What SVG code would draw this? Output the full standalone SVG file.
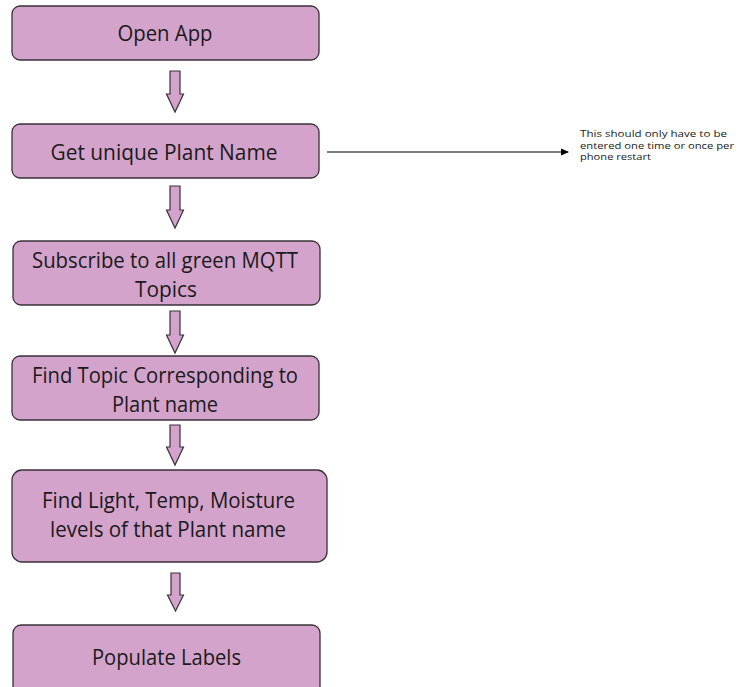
<svg xmlns="http://www.w3.org/2000/svg" width="741" height="687" viewBox="0 0 741 687">
<style>
.box{fill:#D3A3CB;stroke:#3a3038;stroke-width:1.3}
.t{font-family:"Open Sans","Liberation Sans",sans-serif;font-size:21px;fill:#1a1a1a;text-anchor:middle}
.n{font-family:"Open Sans","Liberation Sans",sans-serif;font-size:8.8px;fill:#1a1a1a}
.ba{fill:#D3A3CB;stroke:#3a3038;stroke-width:1.2}
</style>
<defs>
<marker id="ah" markerWidth="8" markerHeight="8" refX="7" refY="4" orient="auto" markerUnits="userSpaceOnUse">
<path d="M0,0.5 L8,4 L0,7.5 Z" fill="#000"/>
</marker>
</defs>
<rect width="741" height="687" fill="#fff"/>
<g id="connectors">
<path class="ba" d="M170,71 H180 V94 H183.5 L175,112 L166.5,94 H170 Z"/>
<path class="ba" d="M170,186 H180 V210 H183.5 L175,228 L166.5,210 H170 Z"/>
<path class="ba" d="M170,311 H180 V335 H183.5 L175,353 L166.5,335 H170 Z"/>
<path class="ba" d="M170,425 H180 V447 H183.5 L175,465 L166.5,447 H170 Z"/>
<path class="ba" d="M171,573 H180 V595 H183.5 L175.5,611 L167.5,595 H171 Z"/>
<line x1="327" y1="152" x2="568" y2="152" stroke="#000" stroke-width="1.2" marker-end="url(#ah)"/>
</g>
<g id="open-app">
<rect class="box" x="12" y="6" width="307" height="54" rx="8"/>
<text class="t" x="165" y="40.5" textLength="95" lengthAdjust="spacingAndGlyphs">Open App</text>
</g>
<g id="get-name">
<rect class="box" x="12" y="124" width="307" height="54" rx="8"/>
<text class="t" x="164" y="160" textLength="227" lengthAdjust="spacingAndGlyphs">Get unique Plant Name</text>
</g>
<g id="note">
<text class="n" x="580" y="137" textLength="147" lengthAdjust="spacingAndGlyphs">This should only have to be</text>
<text class="n" x="580" y="148.5" textLength="154" lengthAdjust="spacingAndGlyphs">entered one time or once per</text>
<text class="n" x="580" y="160" textLength="71" lengthAdjust="spacingAndGlyphs">phone restart</text>
</g>
<g id="subscribe">
<rect class="box" x="13" y="241" width="307" height="64" rx="8"/>
<text class="t" x="165" y="268" textLength="266" lengthAdjust="spacingAndGlyphs">Subscribe to all green MQTT</text>
<text class="t" x="166" y="297" textLength="62" lengthAdjust="spacingAndGlyphs">Topics</text>
</g>
<g id="find-topic">
<rect class="box" x="12" y="356" width="307" height="64" rx="8"/>
<text class="t" x="165" y="383" textLength="266" lengthAdjust="spacingAndGlyphs">Find Topic Corresponding to</text>
<text class="t" x="165" y="412" textLength="106" lengthAdjust="spacingAndGlyphs">Plant name</text>
</g>
<g id="find-levels">
<rect class="box" x="12" y="470" width="315" height="92" rx="10"/>
<text class="t" x="168.5" y="508" textLength="253" lengthAdjust="spacingAndGlyphs">Find Light, Temp, Moisture</text>
<text class="t" x="168" y="537" textLength="236" lengthAdjust="spacingAndGlyphs">levels of that Plant name</text>
</g>
<g id="populate">
<rect class="box" x="13" y="625" width="307" height="70" rx="8"/>
<text class="t" x="166.5" y="665" textLength="149" lengthAdjust="spacingAndGlyphs">Populate Labels</text>
</g>
</svg>
